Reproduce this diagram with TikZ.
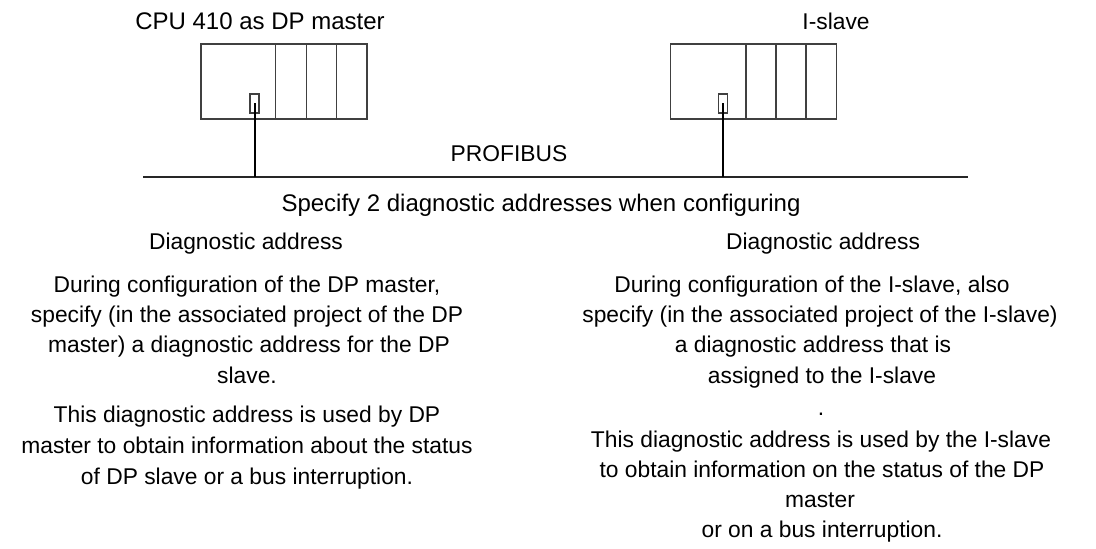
\documentclass[tikz,border=0pt]{standalone}
\usepackage{fontspec}
\setmainfont{Liberation Sans}
\begin{document}
\begin{tikzpicture}[x=0.75pt,y=-0.75pt,
  txt/.style={font=\fontsize{17.1}{22.9}\selectfont, inner sep=0pt, anchor=base, text=black},
  bigtxt/.style={txt, font=\fontsize{18}{23}\selectfont},
  rack/.style={draw=black!75, line width=1.1pt, minimum width=124.5pt, minimum height=56.25pt, inner sep=0pt},
  divider/.style={draw=black!75, line width=1.1pt},
  port/.style={draw=black!75, line width=1.1pt, minimum width=6.5pt, minimum height=14pt, inner sep=0pt},
  busline/.style={draw=black!85, line width=1.9pt},
  tap/.style={draw=black, line width=1.5pt}]
\useasboundingbox (0,0) rectangle (1096,549);

% titles
\node[bigtxt, anchor=base west] (mtitle) at (135,30) {CPU 410 as DP master};
\node[txt] (stitle) at (836,30) {I-slave};

% master rack
\node[rack] (master) at (284,81.5) {};
\draw[divider] (master.north west) ++(75,0) -- ++(0,75);
\draw[divider] (master.north west) ++(106,0) -- ++(0,75);
\draw[divider] (master.north west) ++(136,0) -- ++(0,75);
\node[port] (mport) at (254.5,103.5) {};

% slave rack
\node[rack] (slave) at (753.5,81.5) {};
\draw[divider] (slave.north west) ++(76,0) -- ++(0,75);
\draw[divider] (slave.north west) ++(106,0) -- ++(0,75);
\draw[divider] (slave.north west) ++(136,0) -- ++(0,75);
\node[port] (sport) at (723,103.5) {};

% bus
\coordinate (busL) at (143,177);
\coordinate (busR) at (968,177);
\coordinate (mtap) at (254.5,177);
\coordinate (stap) at (723,177);
\draw[busline] (busL) -- (busR);
\draw[tap] (mport.center) -- (mtap);
\draw[tap] (sport.center) -- (stap);
\node[txt] (profibus) at (509,162) {PROFIBUS};

% texts
\node[bigtxt] (spec) at (541,212) {Specify 2 diagnostic addresses when configuring};
\node[txt] (dal) at (246,249) {Diagnostic address};
\node[txt] (dar) at (823,249) {Diagnostic address};

\node[txt] (l1) at (247,292) {During configuration of the DP master,};
\node[txt] (l2) at (247,322) {specify (in the associated project of the DP};
\node[txt] (l3) at (249,352) {master) a diagnostic address for the DP};
\node[txt] (l4) at (247,383) {slave.};
\node[txt] (l5) at (247,422) {This diagnostic address is used by DP};
\node[txt] (l6) at (247,453) {master to obtain information about the status};
\node[txt] (l7) at (247,484) {of DP slave or a bus interruption.};

\node[txt] (r1) at (812,292) {During configuration of the I-slave, also};
\node[txt] (r2) at (820,322) {specify (in the associated project of the I-slave)};
\node[txt] (r3) at (813,352) {a diagnostic address that is};
\node[txt] (r4) at (822,383) {assigned to the I-slave};
\node[txt] (r5) at (821,415) {.};
\node[txt] (r6) at (821,447) {This diagnostic address is used by the I-slave};
\node[txt] (r7) at (822,477) {to obtain information on the status of the DP};
\node[txt] (r8) at (820,507) {master};
\node[txt] (r9) at (822,537) {or on a bus interruption.};
\end{tikzpicture}
\end{document}
